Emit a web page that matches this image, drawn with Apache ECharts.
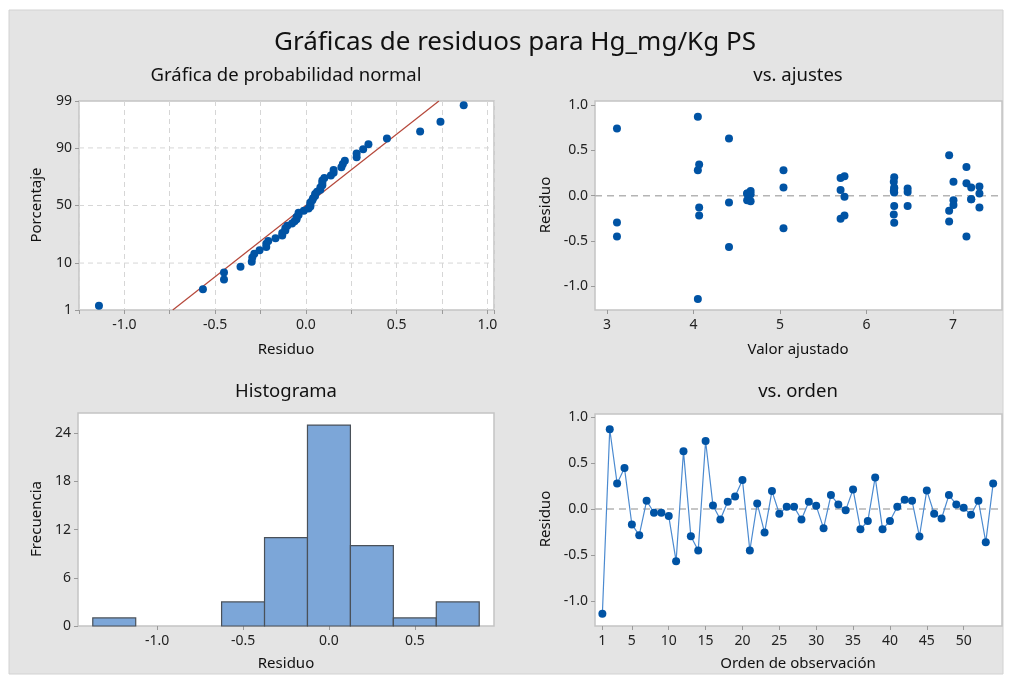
<!DOCTYPE html>
<html><head><meta charset="utf-8">
<script src="https://cdn.jsdelivr.net/npm/echarts@6/dist/echarts.min.js"></script>
<style>html,body{margin:0;padding:0;background:#fff}#c{width:1011px;height:677px}</style>
</head><body><div id="c"></div>
<script>
// Residuals in observation order
const residuals = [
  -1.14, 0.87, 0.28, 0.447, -0.167, -0.284, 0.091, -0.04, -0.04, -0.076,
  -0.567, 0.63, -0.295, -0.451, 0.742, 0.04, -0.113, 0.08, 0.138, 0.316,
  -0.451, 0.062, -0.255, 0.196, -0.051, 0.025, 0.025, -0.113, 0.08, 0.036,
  -0.207, 0.153, 0.051, -0.011, 0.215, -0.218, -0.13, 0.345, -0.218, -0.13,
  0.025, 0.102, 0.091, -0.298, 0.204, -0.051, -0.102, 0.153, 0.051, 0.015,
  -0.062, 0.091, -0.36, 0.28
];
// Fitted values in observation order
const fittedValues = [
  4.05, 4.05, 4.05, 6.955, 6.955, 6.955, 7.21, 7.21, 7.21, 4.41,
  4.41, 4.41, 3.115, 3.115, 3.115, 6.475, 6.475, 6.475, 7.155, 7.155,
  7.155, 5.70, 5.70, 5.70, 4.62, 4.62, 4.62, 6.32, 6.32, 6.32,
  6.315, 6.315, 6.315, 5.745, 5.745, 5.745, 4.065, 4.065, 4.065, 7.305,
  7.305, 7.305, 6.32, 6.32, 6.32, 7.005, 7.005, 7.005, 4.66, 4.66,
  4.66, 5.04, 5.04, 5.04
];
const histCenters = [-1.25, -1.0, -0.75, -0.5, -0.25, 0.0, 0.25, 0.5, 0.75];
const histCounts = [1, 0, 0, 3, 11, 25, 10, 1, 3];
const histBinWidth = 0.25;
const percentTicks = [1, 10, 50, 90, 99];
const percentGrid = [10, 50, 90];
const residTicks = [-1.0, -0.5, 0.0, 0.5, 1.0];
const fittedTicks = [3, 4, 5, 6, 7];
const orderTicks = [1, 5, 10, 15, 20, 25, 30, 35, 40, 45, 50];
const freqTicks = [0, 6, 12, 18, 24];
const histTicks = [-1.0, -0.5, 0.0, 0.5];
const zeroRef = [0];

// inverse normal CDF (Acklam)
function invNorm(p) {
  const a = [-3.969683028665376e+01, 2.209460984245205e+02, -2.759285104469687e+02, 1.383577518672690e+02, -3.066479806614716e+01, 2.506628277459239e+00];
  const b = [-5.447609879822406e+01, 1.615858368580409e+02, -1.556989798598866e+02, 6.680131188771972e+01, -1.328068155288572e+01];
  const c = [-7.784894002430293e-03, -3.223964580411365e-01, -2.400758277161838e+00, -2.549732539343734e+00, 4.374664141464968e+00, 2.938163982698783e+00];
  const d = [7.784695709041462e-03, 3.224671290700398e-01, 2.445134137142996e+00, 3.754408661907416e+00];
  const pl = 0.02425, ph = 1 - pl;
  let q, r;
  if (p < pl) { q = Math.sqrt(-2 * Math.log(p)); return (((((c[0]*q+c[1])*q+c[2])*q+c[3])*q+c[4])*q+c[5]) / ((((d[0]*q+d[1])*q+d[2])*q+d[3])*q+1); }
  if (p <= ph) { q = p - 0.5; r = q*q; return (((((a[0]*r+a[1])*r+a[2])*r+a[3])*r+a[4])*r+a[5])*q / (((((b[0]*r+b[1])*r+b[2])*r+b[3])*r+b[4])*r+1); }
  q = Math.sqrt(-2 * Math.log(1 - p)); return -(((((c[0]*q+c[1])*q+c[2])*q+c[3])*q+c[4])*q+c[5]) / ((((d[0]*q+d[1])*q+d[2])*q+d[3])*q+1);
}
const zOf = p => invNorm(p / 100);
const n = residuals.length;
const sorted = residuals.slice().sort((a, b) => a - b);
const probData = sorted.map((v, i) => [v, invNorm((i + 1 - 0.3) / (n + 0.4))]);
const mean = residuals.reduce((s, v) => s + v, 0) / n;
const sd = Math.sqrt(residuals.reduce((s, v) => s + (v - mean) * (v - mean), 0) / (n - 1));
const zMin = zOf(1), zMax = zOf(99);
const fitLine = [[mean + sd * zMin, zMin], [mean + sd * zMax, zMax]];
const scatterFitted = residuals.map((r, i) => [fittedValues[i], r]);
const orderData = residuals.map((r, i) => [i + 1, r]);

const FONT = '"Noto Sans", "Open Sans", sans-serif';
const dotColor = '#0053a4';
const labelStyle = { color: '#222', fontSize: 14, fontFamily: FONT };
const gridBase = { show: true, backgroundColor: '#fff', borderColor: '#c4c4c4', borderWidth: 1.5, containLabel: false, outerBoundsMode: 'none' };
const tick = { show: true, length: 4, lineStyle: { color: '#9a9a9a' } };
const f1 = v => v.toFixed(1);

// horizontal reference line drawn through the axes' scale
function hLineSeries(xi, values, color, dash, width) {
  return { type: 'custom', xAxisIndex: xi, yAxisIndex: xi, silent: true, z: 1,
    data: values.map(v => [v]),
    encode: { y: 0 },
    renderItem: function (params, api) {
      const cs = params.coordSys;
      const y = api.coord([0, api.value(0)])[1];
      return { type: 'line', shape: { x1: cs.x, y1: y, x2: cs.x + cs.width, y2: y },
        style: { stroke: color, lineWidth: width, lineDash: dash } };
    } };
}

const chart = echarts.init(document.getElementById('c'), null, { renderer: 'canvas' });
function txt(text, x, y, size, rot, weight) {
  return { type: 'text', x: x, y: y, rotation: rot || 0, z: 100,
    style: { text: text, font: (weight || 'normal') + ' ' + size + 'px ' + FONT, fill: '#111', align: 'center', verticalAlign: 'middle', textAlign: 'center', textVerticalAlign: 'middle' } };
}
const option = {
  animation: false,
  backgroundColor: '#fff',
  graphic: [
    { type: 'rect', shape: { x: 9, y: 10, width: 994, height: 664 }, style: { fill: '#e4e4e4', stroke: '#d2d2d2', lineWidth: 1 }, z: -10 },
    txt('Gráficas de residuos para Hg_mg/Kg PS', 515, 43, 26),
    txt('Gráfica de probabilidad normal', 286, 76, 18.5),
    txt('vs. ajustes', 798, 76, 18.5),
    txt('Histograma', 286, 392, 18.5),
    txt('vs. orden', 798, 392, 18.5),
    txt('Residuo', 286, 350, 15),
    txt('Valor ajustado', 798, 350, 15),
    txt('Residuo', 286, 664, 15),
    txt('Orden de observación', 798, 664, 15),
    txt('Porcentaje', 37, 205, 15, Math.PI / 2),
    txt('Residuo', 546, 205, 15, Math.PI / 2),
    txt('Frecuencia', 37, 519, 15, Math.PI / 2),
    txt('Residuo', 546, 519, 15, Math.PI / 2)
  ],
  grid: [
    Object.assign({ left: 79, top: 101, width: 415, height: 209 }, gridBase),
    Object.assign({ left: 595, top: 101, width: 407, height: 209 }, gridBase),
    Object.assign({ left: 78, top: 413, width: 416, height: 213 }, gridBase),
    Object.assign({ left: 595, top: 414, width: 407, height: 212 }, gridBase)
  ],
  xAxis: [
    { gridIndex: 0, type: 'value', min: -1.25, max: 1.037, interval: 0.25,
      axisLine: { show: false, onZero: false }, axisTick: { show: true, length: 4, lineStyle: { color: '#9a9a9a' } },
      axisLabel: Object.assign({ margin: 8, formatter: v => (Math.abs(v * 2 - Math.round(v * 2)) < 1e-6 && v >= -1 && v <= 1) ? f1(v) : '' }, labelStyle),
      splitLine: { show: true, lineStyle: { type: [5, 4], color: '#d6d6d6', width: 1 } } },
    { gridIndex: 1, type: 'value', min: 2.861, max: 7.566,
      axisLine: { show: false, onZero: false }, axisTick: Object.assign({ customValues: fittedTicks }, tick),
      axisLabel: Object.assign({ margin: 8, customValues: fittedTicks, formatter: v => String(v) }, labelStyle),
      splitLine: { show: false } },
    { gridIndex: 2, type: 'value', min: -1.461, max: 0.961,
      axisLine: { show: false, onZero: false }, axisTick: Object.assign({ customValues: histTicks }, tick),
      axisLabel: Object.assign({ margin: 8, customValues: histTicks, formatter: f1 }, labelStyle),
      splitLine: { show: false } },
    { gridIndex: 3, type: 'value', min: 0, max: 55.2,
      axisLine: { show: false, onZero: false }, axisTick: Object.assign({ customValues: orderTicks }, tick),
      axisLabel: Object.assign({ margin: 8, customValues: orderTicks, formatter: v => String(v) }, labelStyle),
      splitLine: { show: false } }
  ],
  yAxis: [
    { gridIndex: 0, type: 'value', min: zMin, max: zMax,
      axisLine: { show: false, onZero: false }, axisTick: Object.assign({ customValues: percentTicks.map(zOf) }, tick),
      axisLabel: Object.assign({ margin: 7, customValues: percentTicks.map(zOf),
        formatter: v => { let best = percentTicks[0], bd = 1e9; percentTicks.forEach(p => { const d = Math.abs(zOf(p) - v); if (d < bd) { bd = d; best = p; } }); return String(best); } }, labelStyle),
      splitLine: { show: false } },
    { gridIndex: 1, type: 'value', min: -1.261, max: 1.044,
      axisLine: { show: false, onZero: false }, axisTick: Object.assign({ customValues: residTicks }, tick),
      axisLabel: Object.assign({ margin: 7, customValues: residTicks, formatter: f1 }, labelStyle),
      splitLine: { show: false } },
    { gridIndex: 2, type: 'value', min: 0, max: 26.5,
      axisLine: { show: false, onZero: false }, axisTick: Object.assign({ customValues: freqTicks }, tick),
      axisLabel: Object.assign({ margin: 7, customValues: freqTicks, formatter: v => String(v) }, labelStyle),
      splitLine: { show: false } },
    { gridIndex: 3, type: 'value', min: -1.273, max: 1.036,
      axisLine: { show: false, onZero: false }, axisTick: Object.assign({ customValues: residTicks }, tick),
      axisLabel: Object.assign({ margin: 7, customValues: residTicks, formatter: f1 }, labelStyle),
      splitLine: { show: false } }
  ],
  series: [
    hLineSeries(0, percentGrid.map(zOf), '#d6d6d6', [5, 4], 1),
    { type: 'line', xAxisIndex: 0, yAxisIndex: 0, data: fitLine, symbol: 'none', silent: true,
      lineStyle: { color: '#b5473a', width: 1.2 }, z: 3 },
    { type: 'scatter', xAxisIndex: 0, yAxisIndex: 0, data: probData, symbol: 'circle', symbolSize: 8,
      itemStyle: { color: dotColor, opacity: 1 }, z: 5 },
    hLineSeries(1, zeroRef, '#b4b4b4', [7, 5], 1.5),
    { type: 'scatter', xAxisIndex: 1, yAxisIndex: 1, data: scatterFitted, symbol: 'circle', symbolSize: 8,
      itemStyle: { color: dotColor, opacity: 1 }, z: 5 },
    { type: 'custom', xAxisIndex: 2, yAxisIndex: 2,
      data: histCenters.map((c, i) => [c, histCounts[i]]),
      renderItem: function (params, api) {
        const c = api.value(0), h = api.value(1);
        if (h <= 0) return null;
        const p0 = api.coord([c - histBinWidth / 2, h]);
        const p1 = api.coord([c + histBinWidth / 2, 0]);
        return { type: 'rect', shape: { x: p0[0], y: p0[1], width: p1[0] - p0[0], height: p1[1] - p0[1] },
          style: { fill: '#7ca6d8', stroke: '#4a5159', lineWidth: 1.2 } };
      } },
    hLineSeries(3, zeroRef, '#b4b4b4', [7, 5], 1.5),
    { type: 'line', xAxisIndex: 3, yAxisIndex: 3, data: orderData, symbol: 'circle', symbolSize: 8,
      itemStyle: { color: dotColor }, lineStyle: { color: '#4b8ad0', width: 1.2 }, z: 5 }
  ]
};
chart.setOption(option);
</script></body></html>
